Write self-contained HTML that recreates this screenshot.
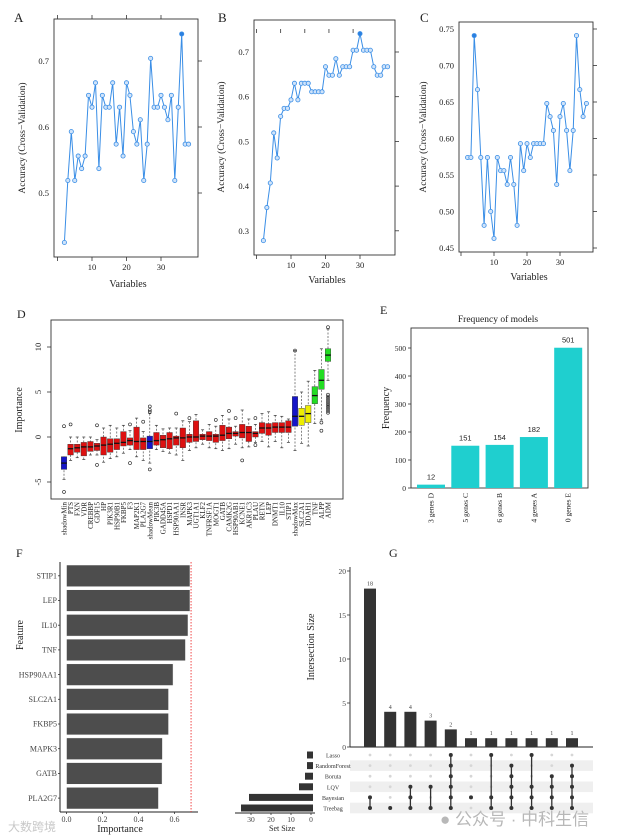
<!DOCTYPE html>
<html><head><meta charset="utf-8">
<style>
html,body{margin:0;padding:0;background:#fff;}
svg{display:block;font-family:"Liberation Serif",serif;}
</style></head>
<body>
<svg id="fig" width="624" height="839" viewBox="0 0 624 839" xmlns="http://www.w3.org/2000/svg"></svg>
<script>
// ---------- data ----------
const rfeX = [2,3,4,5,6,7,8,9,10,11,12,13,14,15,16,17,18,19,20,21,22,23,24,25,26,27,28,29,30,31,32,33,34,35,36,37,38];
const accA = [0.425,0.519,0.593,0.519,0.556,0.537,0.556,0.648,0.63,0.667,0.537,0.648,0.63,0.63,0.667,0.574,0.63,0.556,0.667,0.648,0.593,0.574,0.611,0.519,0.574,0.704,0.63,0.63,0.648,0.63,0.611,0.648,0.519,0.63,0.741,0.574,0.574];
const accB = [0.278,0.352,0.407,0.519,0.463,0.556,0.574,0.574,0.593,0.63,0.593,0.63,0.63,0.63,0.611,0.611,0.611,0.611,0.667,0.648,0.648,0.685,0.648,0.667,0.667,0.667,0.704,0.704,0.741,0.704,0.704,0.704,0.667,0.648,0.648,0.667,0.667];
const accC = [0.574,0.574,0.741,0.667,0.574,0.481,0.574,0.5,0.463,0.574,0.556,0.556,0.537,0.574,0.537,0.481,0.593,0.556,0.593,0.574,0.593,0.593,0.593,0.593,0.648,0.63,0.611,0.537,0.63,0.648,0.611,0.556,0.611,0.741,0.667,0.63,0.648];
const bestA = 36, bestB = 30, bestC = 4;

const borutaNames = ["shadowMin","PTS","FXN","VDR","CREBBP","GDF15","HP","PIK3R1","HSP90B1","FKBP5","F3","MAP2K1","PLA2G7","shadowMean","PIK3B","GADD45A","HSPD1","HSP90AA1","INSR","MAPK3","UGT1A1","KLF2","TNFRSF1A","MOGT1","GATB","CAMK2G","HSP90AB1","KCNE1","AKR1C3","PLAU","RETN","LEP","DNMT1","IL10","STIP1","shadowMax","SLC2A1","DDAH1","TNF","ALPP","ADM"];
const borutaMed = [-2.9,-1.3,-1.2,-1.1,-1.1,-1.0,-0.9,-0.8,-0.7,-0.6,-0.4,-0.5,-0.5,-0.5,-0.4,-0.3,-0.2,-0.1,-0.1,0,0,0.1,0.1,0.1,0.2,0.4,0.4,0.5,0.5,0.4,1.0,1.0,1.1,1.1,1.1,2.3,2.3,2.6,4.6,6.3,9.1];
const borutaQ1 = [-3.6,-2.0,-1.7,-2.1,-1.6,-1.5,-2.0,-1.7,-1.4,-1.0,-0.9,-1.4,-1.4,-1.3,-0.9,-1.2,-1.3,-0.9,-1.2,-0.6,-0.5,-0.3,-0.4,-0.6,-0.4,-0.2,0.1,-0.1,-0.5,0.0,0.4,0.2,0.5,0.5,0.5,1.2,1.3,1.6,3.7,5.3,8.4];
const borutaQ3 = [-2.2,-0.8,-0.8,-0.6,-0.5,-0.7,0,-0.2,-0.2,0.6,-0.1,1.1,-0.1,0.1,0.5,0.2,0.5,0.1,1.0,0.3,1.8,0.3,0.6,0.3,1.3,1.1,0.6,1.4,1.2,0.6,1.6,1.5,1.6,1.6,1.8,4.5,3.2,3.5,5.6,7.5,9.8];
const borutaLo = [-4.7,-2.6,-2.3,-2.5,-2.0,-2.0,-2.8,-2.4,-2.2,-1.8,-1.4,-2.2,-2.6,-2.9,-1.4,-1.6,-1.8,-2.0,-2.6,-1.5,-1.2,-0.8,-1.2,-1.3,-1.5,-1.3,-0.8,-1.2,-1.1,-0.6,-0.5,-1.1,-0.5,-1.2,-0.6,-1.5,-0.7,-1.0,1.5,1.9,6.3];
const borutaHi = [-2.2,0,0,0,0,-0.3,1.0,1.3,1.0,1.3,0.7,2.1,0.6,2.6,1.3,0.9,1.0,1.0,1.8,1.7,2.5,0.8,1.4,1.2,2.4,2.0,1.2,3.0,2.0,1.4,2.6,2.8,2.4,2.3,2.0,9.6,5.0,6.2,7.4,9.8,12.0];
const borutaGroup = ["s","r","r","r","r","r","r","r","r","r","r","r","r","s","r","r","r","r","r","r","r","r","r","r","r","r","r","r","r","r","r","r","r","r","r","s","y","y","g","g","g"];
const borutaOut = [[1.2,-6.1],[1.4],[],[],[],[1.3,-3.1],[],[],[],[],[1.4,-2.9],[],[1.7],[3.4,3.0,2.8,-3.6],[],[],[],[2.6],[],[2.1],[],[],[],[1.9],[],[2.9],[2.1],[-2.6],[],[2.1,-0.9],[],[],[],[],[],[9.6],[],[],[],[1.6,0.7],[12.2,4.7,4.5,4.3,4.1,3.9,3.7,3.5,3.3,3.1,2.9,2.7]];

const modelCats = ["3 genes D","5 genes C","6 genes B","4 genes A","0 genes E"];
const modelFreq = [12,151,154,182,501];

const featNames = ["STIP1","LEP","IL10","TNF","HSP90AA1","SLC2A1","FKBP5","MAPK3","GATB","PLA2G7"];
const featImp = [0.686,0.686,0.675,0.661,0.592,0.567,0.567,0.533,0.531,0.511];
const featCut = 0.692;

const setNames = ["Lasso","RandomForest","Boruta","LQV","Bayesian","Treebag"];
const setSizes = [2,2,3,6,31,35];
const interSizes = [18,4,4,3,2,1,1,1,1,1,1];
const interSets = [[4,5],[5],[3,4,5],[3,5],[0,1,2,3,4,5],[4],[0,4,5],[1,2,3,4,5],[0,3,4,5],[2,3,4,5],[1,2,3,4,5]];

// ---------- helpers ----------
const NS = "http://www.w3.org/2000/svg";
const svg = document.getElementById("fig");
function el(tag, attrs, name, parent) {
  const e = document.createElementNS(NS, tag);
  for (const k in attrs) e.setAttribute(k, attrs[k]);
  
  
  (parent || svg).appendChild(e);
  return e;
}
function txt(x, y, s, size, name, extra) {
  const a = Object.assign({x: x, y: y, "font-size": size, fill: "#222"}, extra || {});
  const t = el("text", a, name);
  t.textContent = s;
  return t;
}
function line(x1, y1, x2, y2, name, stroke, w, extra) {
  return el("line", Object.assign({x1, y1, x2, y2, stroke: stroke || "#333", "stroke-width": w || 0.8}, extra || {}), name);
}

// ---------- RFE panels A, B, C ----------
function rfePanel(p) {
  el("rect", {x: p.bx0, y: p.by0, width: p.bx1 - p.bx0, height: p.by1 - p.by0, fill: "none", stroke: "#333", "stroke-width": 0.9}, p.id + "-plot-frame");
  txt(p.lx, p.ly, p.label, 13, p.id + "-panel-label");
  [0, 10, 20, 30].forEach(v => {
    const x = p.X(v);
    line(x, p.by1, x, p.by1 + 4, p.id + "-x-tick");
    if (p.topTicks) line(x, p.by0, x, p.by0 - 4, p.id + "-top-tick");
    if (v > 0) txt(x, p.by1 + 13, String(v), 8.5, p.id + "-x-tick-label", {"text-anchor": "middle"});
  });
  p.yt.forEach(v => {
    const y = p.Y(v);
    line(p.bx1, y, p.bx1 + 4, y, p.id + "-right-tick");
    txt(p.bx0 - 5, y + 3, v.toFixed(p.dec), 8.5, p.id + "-y-tick-label", {"text-anchor": "end"});
  });
  if (p.inMarks) p.inMarks.forEach(v => line(p.X(v), p.by0 + 9, p.X(v), p.by0 + 13, p.id + "-inner-mark"));
  txt(p.vx, p.vy, "Variables", 10, p.id + "-x-axis-title", {"text-anchor": "middle"});
  txt(0, 0, "Accuracy (Cross\u2212Validation)", 9.5, p.id + "-y-axis-title", {"text-anchor": "middle", transform: "translate(" + p.tx + "," + p.ty + ") rotate(-90)"});
  const pts = rfeX.map((x, i) => p.X(x).toFixed(1) + "," + p.Y(p.data[i]).toFixed(1)).join(" ");
  el("polyline", {points: pts, fill: "none", stroke: "#3a8ee6", "stroke-width": 1}, p.id + "-accuracy-line");
  rfeX.forEach((x, i) => {
    const best = x === p.best;
    el("circle", {cx: p.X(x), cy: p.Y(p.data[i]), r: 2.1, fill: best ? "#2a7fe0" : "#cfe3fa", stroke: "#3a8ee6", "stroke-width": 0.8}, p.id + "-accuracy-point");
  });
}
rfePanel({id: "a", label: "A", lx: 14, ly: 22, bx0: 54, bx1: 198, by0: 19, by1: 257, topTicks: true,
  X: v => 57.5 + 3.45 * v, Y: v => 127 - (v - 0.6) * 660, yt: [0.5, 0.6, 0.7], dec: 1,
  data: accA, best: bestA, vx: 128, vy: 287, tx: 25, ty: 138});
rfePanel({id: "b", label: "B", lx: 218, ly: 22, bx0: 254, bx1: 395, by0: 20, by1: 255, topTicks: false,
  X: v => 256.5 + 3.45 * v, Y: v => 52 - (v - 0.7) * 447, yt: [0.3, 0.4, 0.5, 0.6, 0.7], dec: 1,
  inMarks: [0, 7, 14, 21, 28],
  data: accB, best: bestB, vx: 327, vy: 283, tx: 224, ty: 137});
rfePanel({id: "c", label: "C", lx: 420, ly: 22, bx0: 459, bx1: 593, by0: 22, by1: 252, topTicks: false,
  X: v => 461 + 3.3 * v, Y: v => 29 - (v - 0.75) * 730, yt: [0.45, 0.5, 0.55, 0.6, 0.65, 0.7, 0.75], dec: 2,
  data: accC, best: bestC, vx: 529, vy: 280, tx: 426, ty: 137});

// ---------- D: Boruta ----------
(function () {
  const X = i => 64 + i * 6.6, Y = v => 437 - v * 9;
  txt(17, 318, "D", 12, "d-panel-label");
  el("rect", {x: 51, y: 320, width: 292, height: 179, fill: "none", stroke: "#333", "stroke-width": 0.9}, "d-plot-frame");
  [-5, 0, 5, 10].forEach(v => {
    line(47, Y(v), 51, Y(v), "d-y-tick");
    txt(0, 0, String(v), 8.5, "d-y-tick-label", {"text-anchor": "middle", transform: "translate(41," + Y(v) + ") rotate(-90)"});
  });
  txt(0, 0, "Importance", 10, "d-y-axis-title", {"text-anchor": "middle", transform: "translate(22,410) rotate(-90)"});
  const col = {s: "#1515c8", r: "#dd1111", y: "#eeee00", g: "#22dd22"};
  borutaNames.forEach((n, i) => {
    const x = X(i);
    line(x, Y(borutaHi[i]), x, Y(borutaQ3[i]), "d-whisker-upper", "#333", 0.6, {"stroke-dasharray": "2,1.5"});
    line(x, Y(borutaLo[i]), x, Y(borutaQ1[i]), "d-whisker-lower", "#333", 0.6, {"stroke-dasharray": "2,1.5"});
    line(x - 1.5, Y(borutaHi[i]), x + 1.5, Y(borutaHi[i]), "d-whisker-cap", "#333", 0.7);
    line(x - 1.5, Y(borutaLo[i]), x + 1.5, Y(borutaLo[i]), "d-whisker-cap", "#333", 0.7);
    el("rect", {x: x - 2.8, y: Y(borutaQ3[i]), width: 5.6, height: Math.max(1, Y(borutaQ1[i]) - Y(borutaQ3[i])), fill: col[borutaGroup[i]], stroke: "#333", "stroke-width": 0.4}, "d-box-" + n.toLowerCase());
    line(x - 2.8, Y(borutaMed[i]), x + 2.8, Y(borutaMed[i]), "d-median", "#111", 1.3);
    borutaOut[i].forEach(o => el("circle", {cx: x, cy: Y(o), r: 1.5, fill: "none", stroke: "#222", "stroke-width": 0.6}, "d-outlier"));
    txt(0, 0, n, 7, "d-x-label", {"text-anchor": "end", transform: "translate(" + (x + 2.5) + ",502) rotate(-90)"});
  });
})();

// ---------- E: Frequency of models ----------
(function () {
  const Y = v => 488 - v * 0.28;
  txt(380, 314, "E", 12, "e-panel-label");
  txt(498, 322, "Frequency of models", 9.5, "e-title", {"text-anchor": "middle"});
  el("rect", {x: 411, y: 328, width: 177, height: 160, fill: "none", stroke: "#333", "stroke-width": 0.9}, "e-plot-frame");
  [0, 100, 200, 300, 400, 500].forEach(v => {
    line(408, Y(v), 411, Y(v), "e-y-tick");
    txt(406, Y(v) + 3, String(v), 7.5, "e-y-tick-label", {"text-anchor": "end"});
  });
  txt(0, 0, "Frequency", 10, "e-y-axis-title", {"text-anchor": "middle", transform: "translate(389,408) rotate(-90)"});
  modelCats.forEach((c, i) => {
    const x = 417 + i * 34.3;
    el("rect", {x: x, y: Y(modelFreq[i]), width: 28, height: Y(0) - Y(modelFreq[i]), fill: "#1fcfcf"}, "e-bar-" + i);
    txt(x + 14, Y(modelFreq[i]) - 5, String(modelFreq[i]), 7.5, "e-bar-value", {"text-anchor": "middle", "font-family": "Liberation Sans, sans-serif"});
    txt(0, 0, c, 7.5, "e-x-label", {"text-anchor": "end", transform: "translate(" + (x + 16.5) + ",493) rotate(-90)"});
  });
})();

// ---------- F: Feature importance ----------
(function () {
  const X = v => 66.5 + v * 180;
  txt(16, 557, "F", 12, "f-panel-label");
  line(60, 562, 60, 812, "f-y-axis-line", "#222", 1);
  line(60, 812, 198, 812, "f-x-axis-line", "#222", 1);
  featNames.forEach((n, i) => {
    const y = 565 + i * 24.7;
    el("rect", {x: 66.5, y: y, width: X(featImp[i]) - 66.5, height: 21.7, fill: "#4d4d4d", stroke: "#fff", "stroke-width": 0.5}, "f-bar-" + n.toLowerCase());
    line(58, y + 10.8, 60, y + 10.8, "f-y-tick");
    txt(57, y + 13.5, n, 8, "f-y-label", {"text-anchor": "end", fill: "#444"});
  });
  line(X(featCut), 562, X(featCut), 812, "f-cutoff-line", "#e33", 0.9, {"stroke-dasharray": "1.5,1.5"});
  [0, 0.2, 0.4, 0.6].forEach(v => {
    line(X(v), 812, X(v), 814, "f-x-tick");
    txt(X(v), 822, v.toFixed(1), 8, "f-x-tick-label", {"text-anchor": "middle", fill: "#444"});
  });
  txt(120, 832, "Importance", 10, "f-x-axis-title", {"text-anchor": "middle"});
  txt(0, 0, "Feature", 10, "f-y-axis-title", {"text-anchor": "middle", transform: "translate(23,635) rotate(-90)"});
})();

// ---------- G: UpSet ----------
(function () {
  const Y = v => 747 - v * 8.8;
  const X = i => 370 + i * 20.2;
  const RY = r => 755 + r * 10.6;
  txt(389, 557, "G", 12, "g-panel-label");
  line(350, 567, 350, 747, "g-y-axis-line", "#222", 0.9);
  line(350, 747, 593, 747, "g-x-axis-line", "#222", 0.9);
  [0, 5, 10, 15, 20].forEach(v => {
    line(347, Y(v), 350, Y(v), "g-y-tick");
    txt(346, Y(v) + 3, String(v), 7.5, "g-y-tick-label", {"text-anchor": "end", fill: "#444"});
  });
  txt(0, 0, "Intersection Size", 10, "g-y-axis-title", {"text-anchor": "middle", transform: "translate(314,647) rotate(-90)"});
  // stripes
  [1, 3, 5].forEach(r => el("rect", {x: 350, y: RY(r) - 5.3, width: 243, height: 10.6, fill: "#efefef"}, "g-matrix-stripe"));
  interSizes.forEach((s, i) => {
    el("rect", {x: X(i) - 6, y: Y(s), width: 12, height: Y(0) - Y(s), fill: "#333"}, "g-intersection-bar-" + i);
    txt(X(i), Y(s) - 3, String(s), 6, "g-bar-value", {"text-anchor": "middle", fill: "#444"});
    setNames.forEach((n, r) => {
      if (interSets[i].indexOf(r) < 0) el("circle", {cx: X(i), cy: RY(r), r: 1.4, fill: "#d6d6d6"}, "g-matrix-dot-empty");
    });
    const rs = interSets[i];
    if (rs.length > 1) line(X(i), RY(Math.min.apply(null, rs)), X(i), RY(Math.max.apply(null, rs)), "g-matrix-connector", "#333", 1.3);
    rs.forEach(r => el("circle", {cx: X(i), cy: RY(r), r: 2, fill: "#333"}, "g-matrix-dot"));
  });
  const SX = v => 311 - v * 2;
  setNames.forEach((n, r) => {
    el("rect", {x: SX(setSizes[r]), y: RY(r) - 3.5, width: 313 - SX(setSizes[r]), height: 7, fill: "#333"}, "g-set-size-bar-" + n.toLowerCase());
    txt(333, RY(r) + 2.5, n, 6, "g-set-label", {"text-anchor": "middle", fill: "#333"});
  });
  line(235, 813, 315, 813, "g-set-axis-line", "#222", 0.9);
  [0, 10, 20, 30].forEach(v => {
    line(SX(v), 813, SX(v), 815, "g-set-tick");
    txt(SX(v), 822, String(v), 7.5, "g-set-tick-label", {"text-anchor": "middle", fill: "#444"});
  });
  txt(282, 831, "Set Size", 8, "g-set-axis-title", {"text-anchor": "middle"});
})();

// watermarks
txt(440, 825, "\u25CF  公众号 · 中科生信", 17, "watermark-right", {fill: "#b8b8b8", "font-family": "Liberation Sans, Noto Sans CJK SC, sans-serif"});
txt(8, 831, "大数跨境", 12, "watermark-left", {fill: "#c8c8c8", "font-family": "Liberation Sans, Noto Sans CJK SC, sans-serif"});
</script>
</body></html>
